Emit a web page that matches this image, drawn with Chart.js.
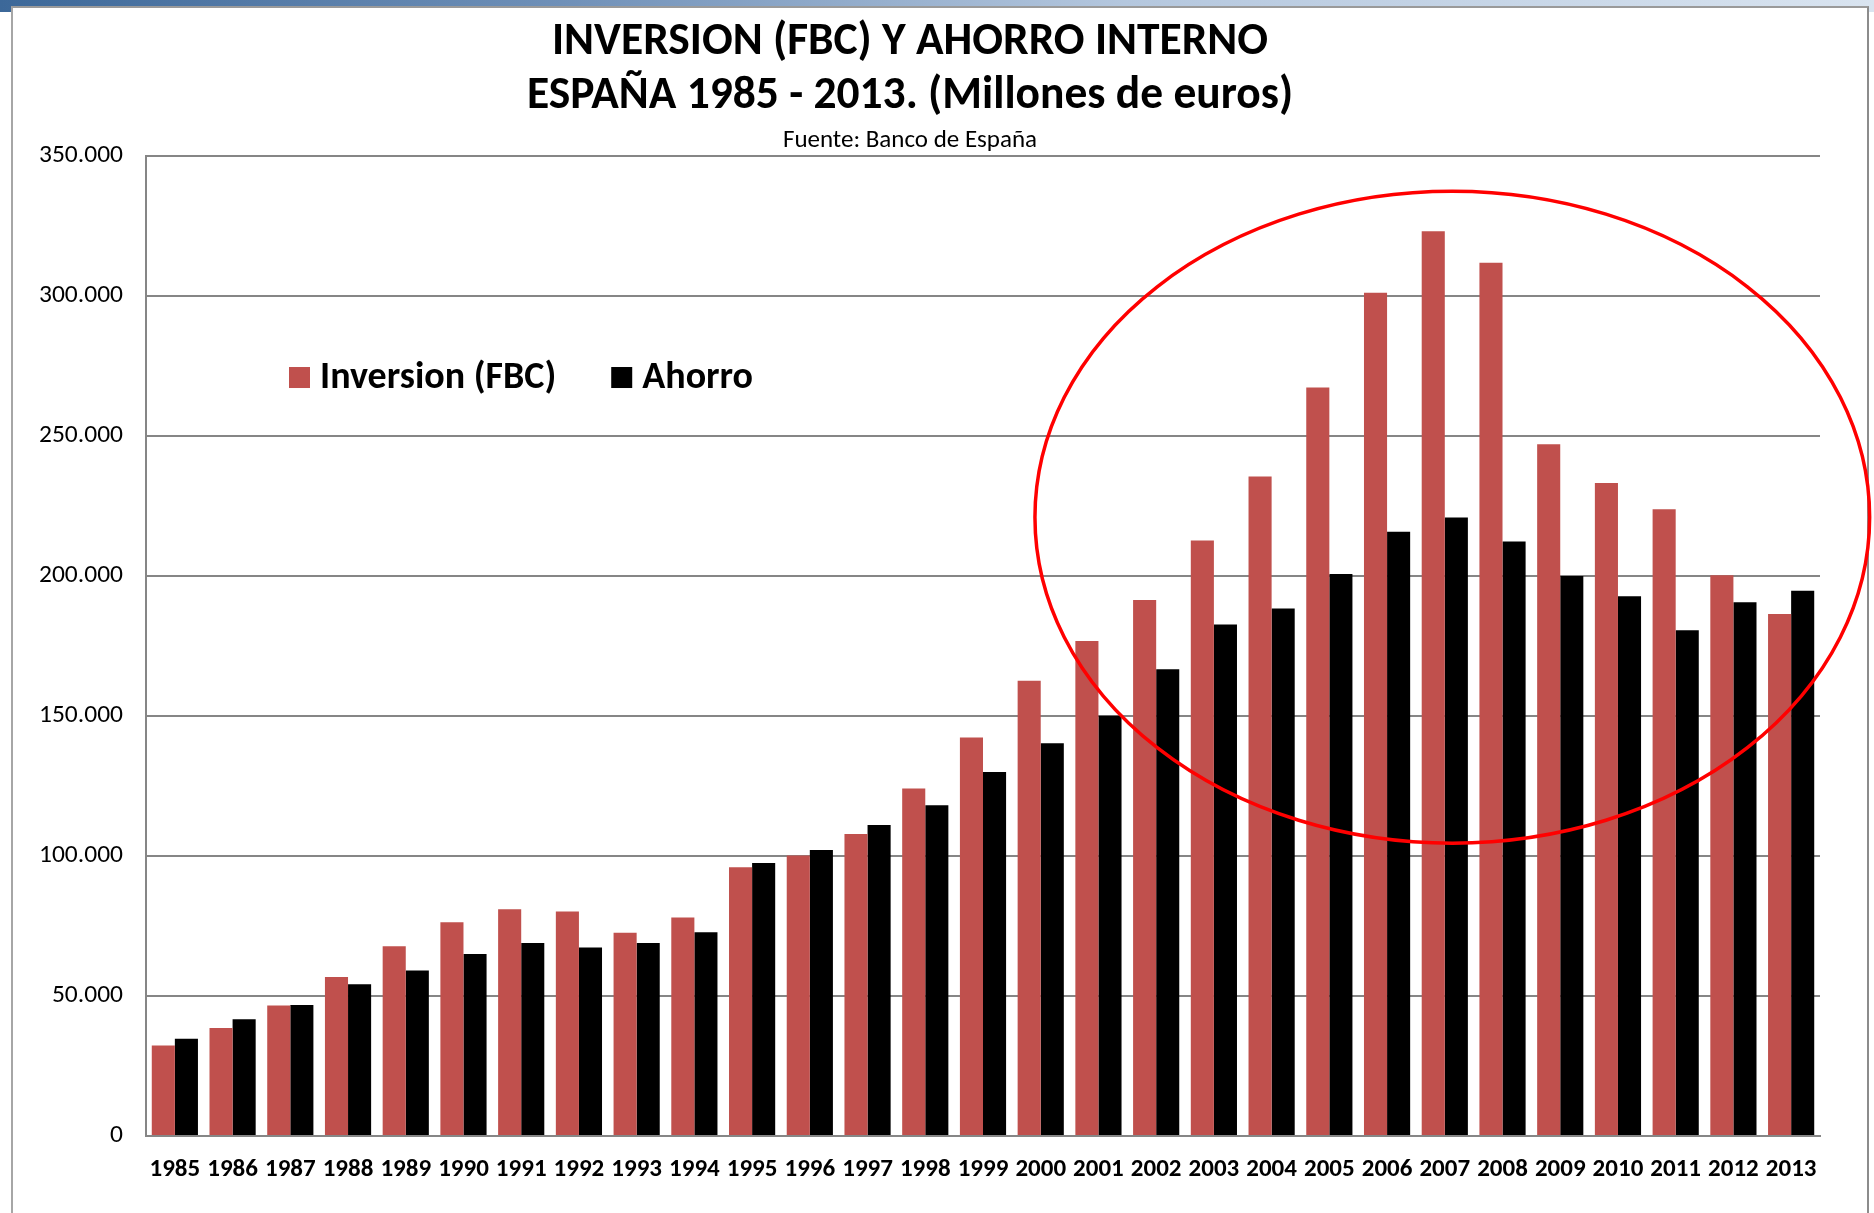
<!DOCTYPE html>
<html>
<head>
<meta charset="utf-8">
<title>Inversion y ahorro interno</title>
<script src="https://cdn.jsdelivr.net/npm/chart.js@4.4.0/dist/chart.umd.min.js"></script>
<style>
  html, body { margin: 0; padding: 0; background: #fff; }
  #band { position: absolute; left: 0; top: 0; width: 1874px; height: 12px;
          background: linear-gradient(90deg, #3c6899 0%, #6f90b8 30%, #b4c7de 60%, #d9e4f0 100%); }
  #frame { position: absolute; left: 11px; top: 6px; width: 1854px; height: 1220px;
           background: #fff; border-left: 2px solid #a6a6a6; border-top: 2px solid #9a9a9a; border-right: 2px solid #8c8c8c; }
  #wrap { position: absolute; left: 0; top: 0; width: 1874px; height: 1213px; }
</style>
</head>
<body>
<div id="band"></div>
<div id="frame"></div>
<div id="wrap"><canvas id="chart"></canvas></div>
<script>
const years = ["1985", "1986", "1987", "1988", "1989", "1990", "1991", "1992", "1993", "1994",
  "1995", "1996", "1997", "1998", "1999", "2000", "2001", "2002", "2003", "2004",
  "2005", "2006", "2007", "2008", "2009", "2010", "2011", "2012", "2013"];

// millones de euros
const inversion = [32300, 38600, 46600, 56800, 67800, 76300, 81000, 80200, 72600, 78000,
  96000, 100200, 107900, 124100, 142300, 162600, 176800, 191400, 212700, 235500,
  267300, 301200, 323100, 311900, 247100, 233200, 223800, 200300, 186400];
const ahorro = [34700, 41700, 46800, 54200, 59100, 65000, 68900, 67300, 68900, 72800,
  97500, 102100, 111100, 118100, 130000, 140300, 150100, 166700, 182700, 188400,
  200700, 215800, 220900, 212300, 200000, 192800, 180600, 190600, 194700];

// red ellipse around 2000-2013 (category index / value units)
const circleCenter = [22.13, 221000];
const circleRadius = [7.23, 116400];

const FONT = "Carlito, Calibri, Lato, sans-serif";

function fmt(v) {
  return v === 0 ? "0" : String(v).replace(/\B(?=(\d{3})+(?!\d))/g, ".");
}

const ellipsePlugin = {
  id: "ellipse",
  afterDraw(chart) {
    const x = chart.scales.x, y = chart.scales.y, ctx = chart.ctx;
    const cx = x.getPixelForValue(circleCenter[0]);
    const cy = y.getPixelForValue(circleCenter[1]);
    const rx = x.getPixelForValue(circleCenter[0] + circleRadius[0]) - cx;
    const ry = cy - y.getPixelForValue(circleCenter[1] + circleRadius[1]);
    ctx.save();
    ctx.strokeStyle = "#ff0000";
    ctx.lineWidth = 3.5;
    ctx.beginPath();
    ctx.ellipse(cx, cy, rx, ry, 0, 0, Math.PI * 2);
    ctx.stroke();
    ctx.restore();
  }
};

// legend drawn inside the plot area, upper left
const innerLegend = {
  id: "innerLegend",
  afterDraw(chart) {
    const ctx = chart.ctx, area = chart.chartArea;
    let x = area.left + 143;
    const y = area.top + 222;
    ctx.save();
    ctx.font = "bold 38px " + FONT;
    ctx.textBaseline = "middle";
    chart.data.datasets.forEach(ds => {
      ctx.fillStyle = ds.backgroundColor;
      ctx.fillRect(x, y - 11, 21, 21);
      ctx.fillStyle = "#000";
      ctx.fillText(ds.label, x + 31, y);
      x += 31 + ctx.measureText(ds.label).width + 55;
    });
    ctx.restore();
  }
};

new Chart(document.getElementById("chart"), {
  type: "bar",
  data: {
    labels: years,
    datasets: [
      { label: "Inversion (FBC)", data: inversion, backgroundColor: "#c0504d" },
      { label: "Ahorro", data: ahorro, backgroundColor: "#000000" }
    ]
  },
  options: {
    responsive: true,
    maintainAspectRatio: false,
    animation: false,
    layout: { padding: { top: 0, left: 0, right: 54, bottom: 0 } },
    datasets: { bar: { categoryPercentage: 0.8, barPercentage: 1.0 } },
    plugins: {
      legend: { display: false },
      tooltip: { enabled: false },
      title: {
        display: true,
        text: ["INVERSION (FBC) Y AHORRO INTERNO", "ESPAÑA 1985 - 2013. (Millones de euros)"],
        color: "#000",
        font: { family: FONT, size: 45.5, weight: "bold", lineHeight: 1.187 },
        padding: { top: 16, bottom: 0 }
      },
      subtitle: {
        display: true,
        text: "Fuente: Banco de España",
        color: "#000",
        font: { family: FONT, size: 25, lineHeight: 1.2 },
        padding: { top: 1.5, bottom: 0.5 }
      }
    },
    scales: {
      x: {
        grid: { display: true, color: "rgba(0,0,0,0)", drawTicks: false },
        border: { display: true, color: "#868686", width: 2 },
        ticks: { color: "#000", padding: 19, maxRotation: 0, autoSkip: false,
                 font: { family: FONT, size: 25, weight: "bold" } },
        afterFit(scale) { scale.height = 77; }
      },
      y: {
        min: 0,
        max: 350000,
        ticks: { stepSize: 50000, color: "#000", padding: 23, callback: fmt,
                 font: { family: FONT, size: 25.5 } },
        grid: { color: "#868686", lineWidth: 2, drawTicks: false },
        border: { display: true, color: "#868686", width: 2 },
        afterFit(scale) { scale.width = 146; }
      }
    }
  },
  plugins: [ellipsePlugin, innerLegend]
});
</script>
</body>
</html>
